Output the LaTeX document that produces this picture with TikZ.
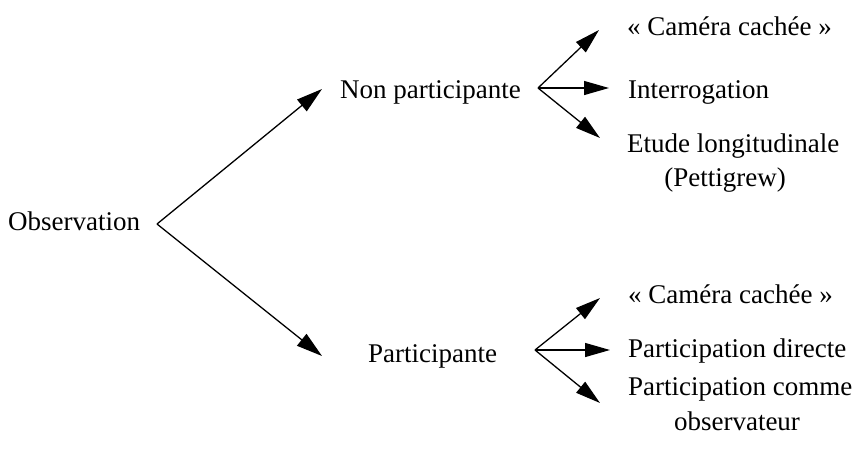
\documentclass[tikz,border=0pt]{standalone}
\usepackage{fontspec}
\setmainfont{Liberation Serif}
\usetikzlibrary{arrows.meta}
\begin{document}
\begin{tikzpicture}[x=1pt,y=-1pt,
  lbl/.style={anchor=base west,inner sep=0pt,font=\fontsize{27}{33}\selectfont},
  lblc/.style={anchor=base,inner sep=0pt,font=\fontsize{27}{33}\selectfont},
  conn/.style={line width=1.3pt,-{Triangle[length=26pt,width=15pt]}},
  sconn/.style={line width=1.3pt,-{Triangle[length=25pt,width=14pt]}}]
\useasboundingbox (0,0) rectangle (855,448);
% texts
\node[lbl] (obs) at (8,230) {Observation};
\node[lbl] (np) at (340,98) {Non participante};
\node[lbl] (p) at (368,362) {Participante};
\node[lbl] (c1) at (627,35) {« Caméra cachée »};
\node[lbl] (int) at (628,98) {Interrogation};
\node[lbl] (etu) at (627,152) {Etude longitudinale};
\node[lblc] (pet) at (725,186) {(Pettigrew)};
\node[lbl] (c2) at (628,303) {« Caméra cachée »};
\node[lbl] (pd) at (628,357) {Participation directe};
\node[lbl] (pc) at (628,395) {Participation comme};
\node[lblc] (obv) at (737,430) {observateur};
% fork vertices and arrow tips
\coordinate (v0) at (157,224);
\coordinate (t0a) at (322,89);
\coordinate (t0b) at (322,356);
\coordinate (v1) at (538,88);
\coordinate (t1a) at (599,30);
\coordinate (t1b) at (609,88);
\coordinate (t1c) at (600,138);
\coordinate (v2) at (535,350);
\coordinate (t2a) at (600,298);
\coordinate (t2b) at (610,350);
\coordinate (t2c) at (600,403);
\draw[conn] (v0) -- (t0a);
\draw[conn] (v0) -- (t0b);
\draw[sconn] (v1) -- (t1a);
\draw[sconn] (v1) -- (t1b);
\draw[sconn] (v1) -- (t1c);
\draw[sconn] (v2) -- (t2a);
\draw[sconn] (v2) -- (t2b);
\draw[sconn] (v2) -- (t2c);
\end{tikzpicture}
\end{document}
